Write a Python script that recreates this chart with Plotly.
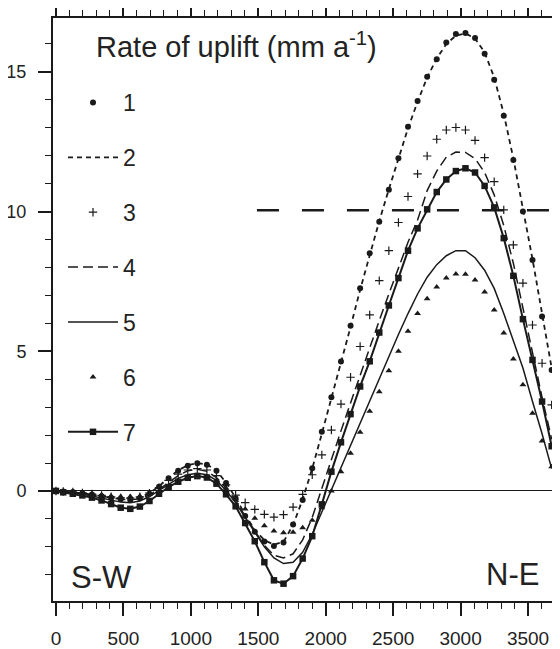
import plotly.graph_objects as go

# ---------------- data ----------------
distance = [0, 54, 125, 196, 267, 338, 409, 480, 551, 622, 693, 764, 835, 906, 977,
            1048, 1119, 1190, 1261, 1332, 1403, 1474, 1545, 1616, 1687, 1758, 1829,
            1900, 1971, 2042, 2113, 2184, 2255, 2326, 2397, 2468, 2539, 2610, 2681,
            2752, 2823, 2894, 2965, 3036, 3107, 3178, 3249, 3320, 3391, 3462, 3533,
            3604, 3675]

uplift_1 = [0, -0.02, -0.04, -0.08, -0.13, -0.19, -0.25, -0.3, -0.32, -0.26, -0.1,
            0.15, 0.45, 0.72, 0.9, 0.99, 0.94, 0.72, 0.28, -0.26, -0.9,
            -1.46, -1.81, -1.97, -1.85, -1.2, -0.32, 0.81, 2.12, 3.35, 4.63,
            5.91, 7.26, 8.51, 9.64, 10.78, 11.91, 13.04, 13.96, 14.83, 15.45,
            16.05, 16.36, 16.39, 16.21, 15.65, 14.72, 13.43, 11.85, 10.0, 8.27,
            6.24, 4.33]

uplift_2 = [0, -0.02, -0.04, -0.08, -0.13, -0.19, -0.25, -0.29, -0.3, -0.24, -0.08,
            0.17, 0.47, 0.74, 0.92, 1.0, 0.95, 0.73, 0.3, -0.24, -0.85,
            -1.4, -1.76, -1.92, -1.82, -1.22, -0.3, 0.8, 2.05, 3.3, 4.58,
            5.87, 7.2, 8.48, 9.66, 10.8, 11.9, 12.98, 13.93, 14.8, 15.48,
            16.0, 16.3, 16.38, 16.2, 15.7, 14.8, 13.5, 11.9, 10.1, 8.3,
            6.35, 4.4]

uplift_3 = [0, -0.02, -0.04, -0.07, -0.11, -0.16, -0.21, -0.25, -0.26, -0.21, -0.08,
            0.12, 0.38, 0.6, 0.75, 0.8, 0.75, 0.55, 0.22, -0.15, -0.42,
            -0.66, -0.84, -0.94, -0.85, -0.58, -0.12, 0.58, 1.29, 2.18, 3.11,
            4.07, 5.17, 6.3, 7.53, 8.6, 9.61, 10.54, 11.35, 11.99, 12.59,
            12.92, 13.01, 12.92, 12.55, 11.93, 11.07, 10.06, 8.81, 7.44, 5.94,
            4.57, 3.08]

uplift_4 = [0, -0.02, -0.04, -0.08, -0.13, -0.19, -0.25, -0.3, -0.32, -0.28, -0.15,
            0.05, 0.3, 0.55, 0.72, 0.78, 0.7, 0.48, 0.1, -0.35, -0.9,
            -1.45, -1.95, -2.3, -2.4, -2.25, -1.75, -0.95, 0.1, 1.15, 2.15,
            3.15, 4.15, 5.1, 6.1, 7.05, 8.0, 8.9, 9.7, 10.75, 11.45,
            11.95, 12.13, 12.12, 11.9, 11.4, 10.6, 9.5, 8.15, 6.6, 4.95,
            3.35, 1.85]

uplift_5 = [0, -0.03, -0.07, -0.12, -0.18, -0.25, -0.33, -0.4, -0.42, -0.36, -0.2,
            0.02, 0.25, 0.45, 0.58, 0.63, 0.58, 0.38, 0.02, -0.42, -0.95,
            -1.5, -2.0, -2.4, -2.6, -2.55, -2.2, -1.55, -0.75, 0.05, 0.85,
            1.6, 2.4, 3.2, 4.0, 4.8, 5.6, 6.35, 7.05, 7.65, 8.1,
            8.42, 8.6, 8.6, 8.35, 7.9, 7.25, 6.35, 5.4, 4.4, 3.2,
            2.05, 0.8]

uplift_6 = [0, -0.02, -0.04, -0.07, -0.1, -0.14, -0.18, -0.2, -0.2, -0.18, -0.12,
            -0.02, 0.13, 0.3, 0.45, 0.52, 0.5, 0.38, 0.1, -0.28, -0.65,
            -0.98, -1.25, -1.43, -1.5, -1.48, -1.32, -1.05, -0.6, 0.0, 0.69,
            1.35, 2.1, 2.85, 3.55, 4.3, 5.0, 5.72, 6.35, 6.88, 7.3,
            7.62, 7.77, 7.76, 7.55, 7.12, 6.48, 5.65, 4.72, 3.8, 2.78,
            1.79, 0.87]

uplift_7 = [0, -0.05, -0.1, -0.16, -0.24, -0.34, -0.47, -0.6, -0.64, -0.56, -0.36,
            -0.1, 0.14, 0.33, 0.47, 0.53, 0.48, 0.26, -0.12, -0.55, -1.15,
            -1.8, -2.55, -3.2, -3.32, -3.05, -2.42, -1.62, -0.48, 0.69, 1.74,
            2.75, 3.74, 4.64, 5.67, 6.64, 7.62, 8.6, 9.4, 10.08, 10.7,
            11.15, 11.45, 11.55, 11.4, 10.92, 10.15, 9.05, 7.7, 6.15, 4.69,
            3.2, 1.6]

series_names = ["1", "2", "3", "4", "5", "6", "7"]

threshold_value = 10.05
threshold_start = 1490
threshold_end = 3690

x_ticks = [0, 500, 1000, 1500, 2000, 2500, 3000, 3500]
y_ticks = [0, 5, 10, 15]

# ---------------- styling ----------------
INK = "#1a1a1a"
FONT = "Liberation Sans, Arial, Helvetica, sans-serif"

fig = go.Figure()

# 1: dots
fig.add_trace(go.Scatter(x=distance, y=uplift_1, name=series_names[0], mode="markers",
                         marker=dict(symbol="circle", size=6, color=INK),
                         legendgroup="g1"))
# 2: short dashes
fig.add_trace(go.Scatter(x=distance, y=uplift_2, name=series_names[1], mode="lines",
                         line=dict(color=INK, width=1.8, dash="5px,4px"),
                         legendgroup="g2"))
# 3: plus signs
fig.add_trace(go.Scatter(x=distance, y=uplift_3, name=series_names[2], mode="markers",
                         marker=dict(symbol="cross-thin", size=6, color=INK,
                                     line=dict(color=INK, width=1.2)),
                         legendgroup="g3"))
# 4: long dashes
fig.add_trace(go.Scatter(x=distance, y=uplift_4, name=series_names[3], mode="lines",
                         line=dict(color=INK, width=1.5, dash="10px,5px"),
                         legendgroup="g4"))
# 5: solid
fig.add_trace(go.Scatter(x=distance, y=uplift_5, name=series_names[4], mode="lines",
                         line=dict(color=INK, width=1.5),
                         legendgroup="g5"))
# 6: triangles
fig.add_trace(go.Scatter(x=distance, y=uplift_6, name=series_names[5], mode="markers",
                         marker=dict(symbol="triangle-up", size=6, color=INK),
                         legendgroup="g6"))
# 7: solid with squares
fig.add_trace(go.Scatter(x=distance, y=uplift_7, name=series_names[6], mode="lines+markers",
                         line=dict(color=INK, width=2),
                         marker=dict(symbol="square", size=6.5, color=INK),
                         legendgroup="g7"))

# long dashed reference line
fig.add_trace(go.Scatter(x=[threshold_start, threshold_end],
                         y=[threshold_value, threshold_value],
                         mode="lines", showlegend=False, hoverinfo="skip",
                         line=dict(color=INK, width=2.5, dash="22px,23px")))

axis_common = dict(
    showline=True, linecolor=INK, linewidth=2, mirror="ticks",
    ticks="outside", ticklen=13, tickwidth=1.5, tickcolor=INK,
    showgrid=False, automargin=False,
)

fig.update_xaxes(range=[-22, 3685], tickvals=x_ticks, zeroline=False,
                 minor=dict(dtick=100, ticks="outside", ticklen=6, tickwidth=1.2,
                            tickcolor=INK, showgrid=False),
                 ticklabelstandoff=6,
                 tickfont=dict(family=FONT, size=19, color="#222"),
                 **axis_common)
fig.update_yaxes(range=[-3.94, 16.93], tickvals=y_ticks,
                 zeroline=True, zerolinecolor=INK, zerolinewidth=1.2,
                 minor=dict(dtick=1, ticks="outside", ticklen=6, tickwidth=1.2,
                            tickcolor=INK, showgrid=False),
                 ticklabelstandoff=8,
                 tickfont=dict(family=FONT, size=18, color="#222"),
                 **axis_common)

# the page places the figure 8 px in from the top-left corner
fig.update_layout(
    width=552, height=641,
    margin=dict(l=45, r=7, t=10, b=48, autoexpand=False),
    paper_bgcolor="white", plot_bgcolor="white",
    font=dict(family=FONT, color=INK),
    showlegend=True,
    legend=dict(x=0.02, y=0.892, xanchor="left", yanchor="top",
                bgcolor="rgba(0,0,0,0)", borderwidth=0,
                font=dict(family=FONT, size=23, color="#222"),
                traceorder="grouped", tracegroupgap=22, itemwidth=50),
    annotations=[
        dict(text="Rate of uplift (mm a<sup>-1</sup>)", xref="paper", yref="paper",
             x=0.082, y=0.954, xanchor="left", yanchor="middle", showarrow=False,
             font=dict(family=FONT, size=29, color="#222")),
        dict(text="S-W", xref="paper", yref="paper", x=0.032, y=0.04,
             xanchor="left", yanchor="middle", showarrow=False,
             font=dict(family=FONT, size=31, color="#222")),
        dict(text="N-E", xref="paper", yref="paper", x=0.976, y=0.046,
             xanchor="right", yanchor="middle", showarrow=False,
             font=dict(family=FONT, size=31, color="#222")),
    ],
)

fig.write_html("out.html")
